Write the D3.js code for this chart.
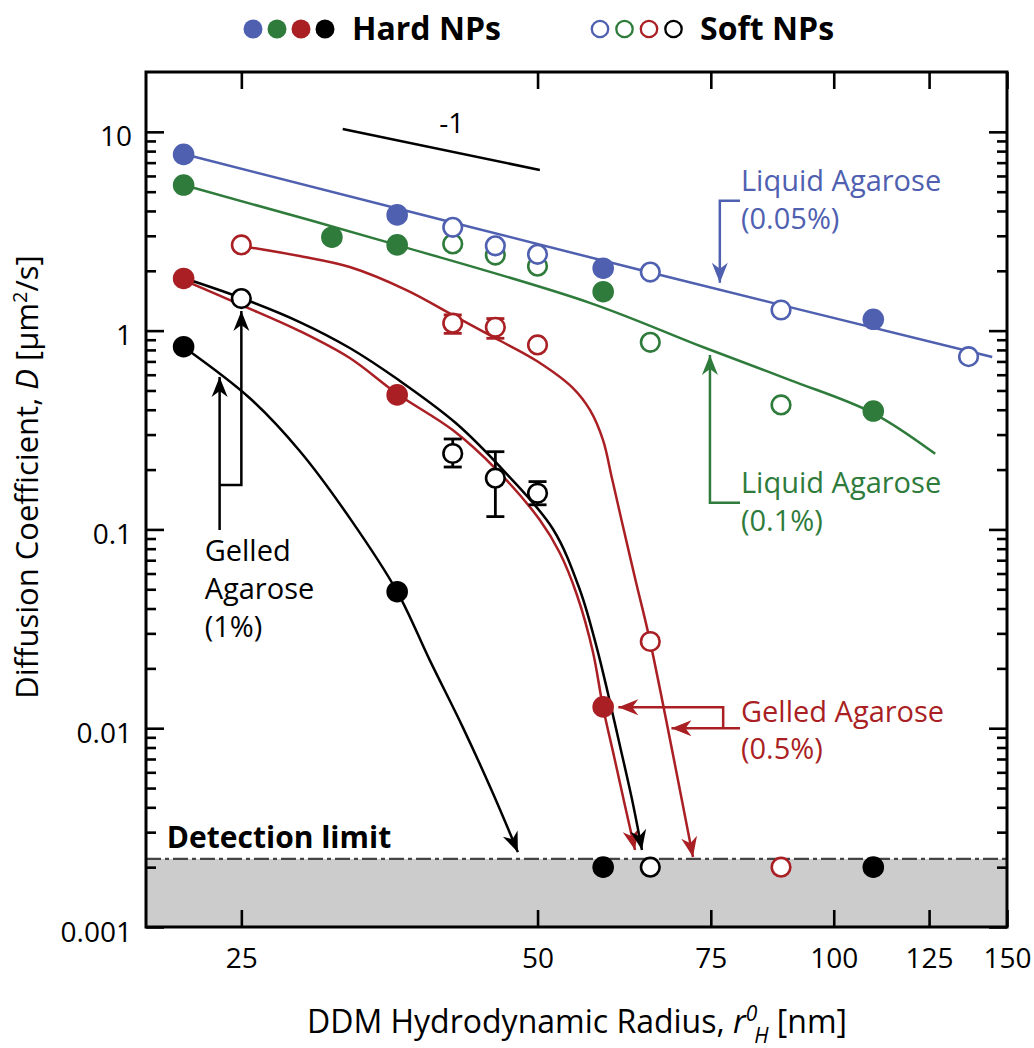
<!DOCTYPE html>
<html>
<head>
<meta charset="utf-8">
<script src="https://cdn.jsdelivr.net/npm/d3@7"></script>
<style>
  body { margin: 0; background: #fff; }
  text { font-family: "Open Sans", sans-serif; fill: #000; }
</style>
</head>
<body>
<svg id="chart" width="1034" height="1048"></svg>
<script>
// tick labels
var xTicks = [25, 50, 75, 100, 125, 150];
var yTicks = [0.001, 0.01, 0.1, 1, 10];

// measured points, [radius nm, D um^2/s] or [r, D, low, high] with error bar
// points at D = 0.002 sit below the detection limit
var hardBlue = [[21.84, 7.70], [36.0, 3.82], [58.3, 2.06], [109.7, 1.14]];
var softBlue = [[41.0, 3.31], [45.3, 2.67], [50.0, 2.42], [65.1, 1.97], [88.4, 1.27], [137.1, 0.74]];
var hardGreen = [[21.84, 5.40], [30.9, 2.95], [36.0, 2.70], [58.3, 1.57], [109.7, 0.394]];
var softGreen = [[41.0, 2.73], [45.3, 2.40], [50.0, 2.11], [65.1, 0.873], [88.4, 0.423]];
var hardRed = [[21.84, 1.83], [36.0, 0.475], [58.3, 0.0128]];
var softRed = [[25.0, 2.70], [41.0, 1.09, 0.969, 1.20], [45.3, 1.04, 0.915, 1.15], [50.0, 0.847], [65.1, 0.0273], [88.4, 0.002]];
var hardBlack = [[21.84, 0.830], [36.0, 0.0486], [58.3, 0.002], [109.7, 0.002]];
var softBlack = [[25.0, 1.45], [41.0, 0.241, 0.206, 0.285], [45.3, 0.181, 0.116, 0.246], [50.0, 0.152, 0.133, 0.174], [65.1, 0.002]];

// fitted curves
var fitBlue = [[21.84, 7.73], [65.1, 1.96], [144.9, 0.737]];
var fitGreen = [[21.84, 5.40], [35.96, 2.70], [56.5, 1.38], [73.6, 0.827], [90.3, 0.564], [109.6, 0.385], [126.8, 0.240]];
var fitRedSoft = [[25.0, 2.665], [28.66, 2.372], [32.22, 2.089], [36.79, 1.600], [41.0, 1.198], [45.25, 0.918], [49.92, 0.703],
  [54.32, 0.514], [56.52, 0.399], [58.27, 0.282], [59.51, 0.181], [60.92, 0.109], [62.95, 0.0544], [65.05, 0.0275], [71.93, 0.00225]];
var fitRedHard = [[21.84, 1.797], [25.0, 1.345], [28.66, 0.995], [32.22, 0.728], [36.02, 0.480], [41.0, 0.316], [45.46, 0.199],
  [50.27, 0.1115], [52.68, 0.0761], [54.83, 0.0468], [56.92, 0.0242], [58.27, 0.0128], [59.79, 0.00725], [61.33, 0.00411], [62.81, 0.00244]];
var fitBlackSoft = [[21.84, 1.839], [25.0, 1.459], [28.66, 1.105], [32.22, 0.818], [36.13, 0.564], [41.29, 0.343], [46.43, 0.192],
  [51.83, 0.1005], [55.21, 0.0496], [57.45, 0.0253], [58.95, 0.0150], [60.64, 0.00814], [62.36, 0.00440], [63.84, 0.00244]];
var fitBlackHard = [[21.84, 0.827], [25.49, 0.458], [28.66, 0.248], [32.22, 0.114], [36.02, 0.0484], [38.85, 0.0220],
  [41.98, 0.0101], [45.03, 0.00472], [47.75, 0.00238]];

var slopeGuide = [[31.69, 10.33], [50.27, 6.43]];
var detectionLimit = 0.0022;

var blue = "#4f60b0", green = "#2e7b3b", red = "#a91f24", black = "#000";

var svg = d3.select("#chart");
var W = 1007 - 146, H = 927 - 72;
var g = svg.append("g").attr("transform", "translate(146,72)");

var x = d3.scaleLog().domain([20, 150]).range([0, W]);
var y = d3.scaleLog().domain([0.001, 20]).range([H, 0]);

// arrow heads
var defs = svg.append("defs");
[["blue", blue], ["green", green], ["red", red], ["black", black]].forEach(function(m) {
  defs.append("marker")
    .attr("id", "arr-" + m[0])
    .attr("viewBox", "-22 -10 24 20")
    .attr("refX", 0).attr("refY", 0)
    .attr("markerWidth", 24).attr("markerHeight", 20)
    .attr("markerUnits", "userSpaceOnUse")
    .attr("orient", "auto")
    .append("path")
    .attr("d", "M0,0L-20,-8L-14,0L-20,8Z")
    .attr("fill", m[1]);
});

// shaded region below detection limit
g.append("rect")
  .attr("x", 0).attr("y", y(detectionLimit))
  .attr("width", W).attr("height", H - y(detectionLimit))
  .attr("fill", "#cccccc");

g.append("line")
  .attr("x1", 0).attr("x2", W)
  .attr("y1", y(detectionLimit)).attr("y2", y(detectionLimit))
  .attr("stroke", "#444").attr("stroke-width", 2.2)
  .attr("stroke-dasharray", "15,4,4,4");

g.append("text")
  .attr("x", x(21)).attr("y", y(0.0025))
  .attr("font-size", 30).attr("font-weight", "bold")
  .text("Detection limit");

// slope -1 guide
var straight = d3.line().x(function(d) { return x(d[0]); }).y(function(d) { return y(d[1]); });
g.append("path").attr("d", straight(slopeGuide)).attr("stroke", black).attr("stroke-width", 2.5).attr("fill", "none");
g.append("text").attr("x", x(40.9)).attr("y", y(9.86)).attr("text-anchor", "middle").attr("font-size", 28).text("-1");

// fit curves
var smooth = d3.line().x(function(d) { return x(d[0]); }).y(function(d) { return y(d[1]); }).curve(d3.curveCatmullRom.alpha(0.5));
var fits = [
  { data: fitBlue, color: blue },
  { data: fitGreen, color: green },
  { data: fitRedSoft, color: red, arrow: "red" },
  { data: fitRedHard, color: red, arrow: "red" },
  { data: fitBlackSoft, color: black, arrow: "black" },
  { data: fitBlackHard, color: black, arrow: "black" }
];
fits.forEach(function(f) {
  var p = g.append("path")
    .attr("d", smooth(f.data))
    .attr("fill", "none")
    .attr("stroke", f.color)
    .attr("stroke-width", 2.5);
  if (f.arrow) p.attr("marker-end", "url(#arr-" + f.arrow + ")");
});

// annotations with bracket arrows (data coordinates)
var notes = [
  { lines: ["Liquid Agarose", "(0.05%)"], color: blue, marker: "blue", at: [80.3, 4.50], dy: [-10, 28],
    arrows: [[[80.3, 4.50], [76.6, 4.50], [76.6, 1.74]]] },
  { lines: ["Liquid Agarose", "(0.1%)"], color: green, marker: "green", at: [80.3, 0.1362], dy: [-10, 28],
    arrows: [[[80.3, 0.1362], [74.85, 0.1362], [74.85, 0.754]]] },
  { lines: ["Gelled Agarose", "(0.5%)"], color: red, marker: "red", at: [80.3, 0.00999], dy: [-6, 31],
    arrows: [[[80.3, 0.00999], [68.4, 0.00999]], [[77.2, 0.00999], [77.2, 0.01274], [60.4, 0.01274]]] },
  { lines: ["Gelled", "Agarose", "(1%)"], color: black, marker: "black", at: [22.89, 0.0694], dy: [0, 38, 76],
    arrows: [[[23.76, 0.0993], [23.76, 0.585]], [[23.76, 0.1673], [25.0, 0.1673], [25.0, 1.255]]] }
];
notes.forEach(function(n) {
  n.arrows.forEach(function(a) {
    g.append("path")
      .attr("d", straight(a))
      .attr("fill", "none")
      .attr("stroke", n.color)
      .attr("stroke-width", 2.5)
      .attr("marker-end", "url(#arr-" + n.marker + ")");
  });
  n.lines.forEach(function(t, i) {
    g.append("text")
      .attr("x", x(n.at[0]) + 1)
      .attr("y", y(n.at[1]) + n.dy[i])
      .attr("font-size", 29)
      .style("fill", n.color)
      .text(t);
  });
});

// data points
var series = [
  { data: hardBlue, color: blue, filled: true },
  { data: hardGreen, color: green, filled: true },
  { data: softGreen, color: green, filled: false },
  { data: softBlue, color: blue, filled: false },
  { data: hardRed, color: red, filled: true },
  { data: softRed, color: red, filled: false },
  { data: hardBlack, color: black, filled: true },
  { data: softBlack, color: black, filled: false }
];
series.forEach(function(s) {
  var withErr = s.data.filter(function(d) { return d.length > 2; });
  var eb = g.append("g").attr("stroke", s.color).attr("stroke-width", 2.8);
  withErr.forEach(function(d) {
    var cx = x(d[0]);
    eb.append("line").attr("x1", cx).attr("x2", cx).attr("y1", y(d[2])).attr("y2", y(d[3]));
    eb.append("line").attr("x1", cx - 9).attr("x2", cx + 9).attr("y1", y(d[2])).attr("y2", y(d[2]));
    eb.append("line").attr("x1", cx - 9).attr("x2", cx + 9).attr("y1", y(d[3])).attr("y2", y(d[3]));
  });
  g.append("g").selectAll("circle")
    .data(s.data)
    .enter().append("circle")
    .attr("cx", function(d) { return x(d[0]); })
    .attr("cy", function(d) { return y(d[1]); })
    .attr("r", s.filled ? 10.8 : 9.3)
    .attr("fill", s.filled ? s.color : "#fff")
    .attr("stroke", s.filled ? "none" : s.color)
    .attr("stroke-width", 2.6);
});

// axes, ticks pointing inward on all four sides
var yMinor = [];
[-3, -2, -1, 0, 1].forEach(function(e) {
  for (var k = 2; k <= 9; k++) {
    var v = k * Math.pow(10, e);
    if (v < 20) yMinor.push(v);
  }
});

function styleAxis(sel) {
  sel.select(".domain").remove();
  sel.selectAll(".tick line").attr("stroke", black).attr("stroke-width", 2.6);
  sel.selectAll(".tick text").attr("font-size", 28).attr("font-family", "'Open Sans', sans-serif").attr("fill", black);
}

g.append("g").attr("transform", "translate(0," + H + ")")
  .call(d3.axisBottom(x).tickValues(xTicks).tickFormat(d3.format("d")).tickSizeInner(-17).tickSizeOuter(0).tickPadding(21))
  .call(styleAxis);
g.append("g")
  .call(d3.axisTop(x).tickValues(xTicks).tickFormat("").tickSizeInner(-17).tickSizeOuter(0))
  .call(styleAxis);
g.append("g")
  .call(d3.axisLeft(y).tickValues(yTicks).tickFormat(d3.format("~g")).tickSizeInner(-18).tickSizeOuter(0).tickPadding(14))
  .call(styleAxis)
  .selectAll(".tick text").attr("dy", "0.5em");
g.append("g")
  .call(d3.axisLeft(y).tickValues(yMinor).tickFormat("").tickSizeInner(-10).tickSizeOuter(0))
  .call(styleAxis);
g.append("g").attr("transform", "translate(" + W + ",0)")
  .call(d3.axisRight(y).tickValues(yTicks).tickFormat("").tickSizeInner(-18).tickSizeOuter(0))
  .call(styleAxis);
g.append("g").attr("transform", "translate(" + W + ",0)")
  .call(d3.axisRight(y).tickValues(yMinor).tickFormat("").tickSizeInner(-10).tickSizeOuter(0))
  .call(styleAxis);

g.append("rect")
  .attr("width", W).attr("height", H)
  .attr("fill", "none").attr("stroke", black).attr("stroke-width", 3);

// axis titles
var xt = svg.append("text")
  .attr("x", 577).attr("y", 1033)
  .attr("text-anchor", "middle")
  .attr("font-size", 32);
xt.append("tspan").text("DDM Hydrodynamic Radius, ");
xt.append("tspan").attr("font-style", "italic").text("r");
xt.append("tspan").attr("font-style", "italic").attr("font-size", 21).attr("dy", -12).text("0");
xt.append("tspan").attr("font-style", "italic").attr("font-size", 21).attr("dx", -3).attr("dy", 22).text("H");
xt.append("tspan").attr("dy", -10).text(" [nm]");

var yt = svg.append("text")
  .attr("transform", "translate(38,477) rotate(-90)")
  .attr("text-anchor", "middle")
  .attr("font-size", 31);
yt.append("tspan").text("Diffusion Coefficient, ");
yt.append("tspan").attr("font-style", "italic").text("D");
yt.append("tspan").text(" [μm");
yt.append("tspan").attr("font-size", 20).attr("dy", -11).text("2");
yt.append("tspan").attr("dy", 11).text("/s]");

// legend
var legendColors = [blue, green, red, black];
var lg = svg.append("g");
lg.selectAll(".hard").data(legendColors).enter().append("circle")
  .attr("cx", function(d, i) { return 253 + i * 24; })
  .attr("cy", 29).attr("r", 9.5)
  .attr("fill", function(d) { return d; });
lg.append("text").attr("x", 352).attr("y", 40).attr("font-size", 32).attr("font-weight", "bold").text("Hard NPs");
lg.selectAll(".soft").data(legendColors).enter().append("circle")
  .attr("cx", function(d, i) { return 600 + i * 24.5; })
  .attr("cy", 29).attr("r", 8.2)
  .attr("fill", "#fff")
  .attr("stroke", function(d) { return d; })
  .attr("stroke-width", 2.3);
lg.append("text").attr("x", 700).attr("y", 40).attr("font-size", 32).attr("font-weight", "bold").text("Soft NPs");
</script>
</body>
</html>
